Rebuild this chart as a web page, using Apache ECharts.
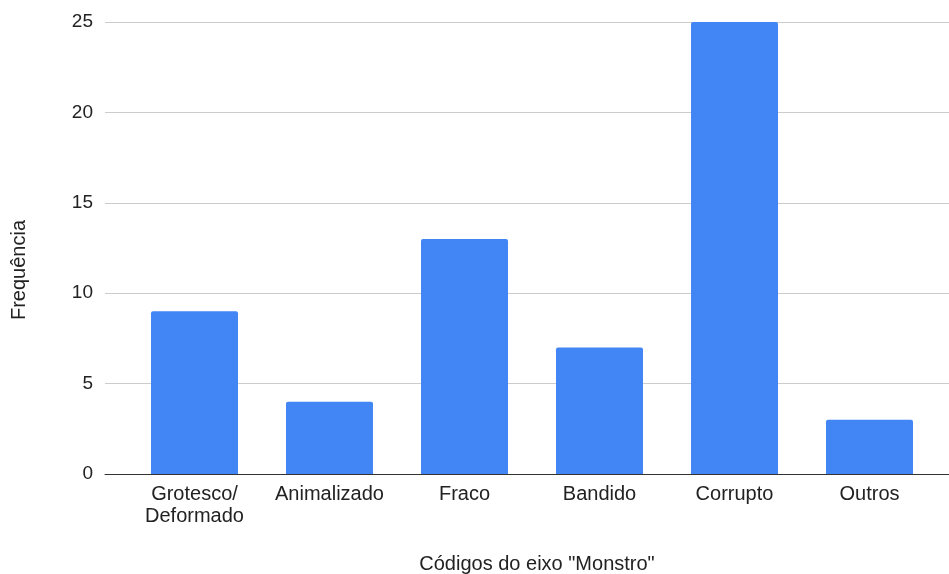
<!DOCTYPE html>
<html>
<head>
<meta charset="utf-8">
<script src="https://cdn.jsdelivr.net/npm/echarts@6/dist/echarts.min.js"></script>
<style>
  html, body { margin: 0; padding: 0; background: #fff; }
  #chart { width: 949px; height: 574px; }
</style>
</head>
<body>
<div id="chart"></div>
<script>
// Frequency of each "Monstro" code
const categories = ['Grotesco/\nDeformado', 'Animalizado', 'Fraco', 'Bandido', 'Corrupto', 'Outros'];
const frequencies = [9, 4, 13, 7, 25, 3];
const yTicks = [0, 5, 10, 15, 20, 25];

const font = 'Liberation Sans, Arial, sans-serif';
const textColor = '#222';

const chart = echarts.init(document.getElementById('chart'), null, { renderer: 'canvas' });

chart.setOption({
  animation: false,
  backgroundColor: '#fff',
  grid: [
    // background grid: gridlines and baseline spanning full width
    { left: 105, right: 0, top: 22, bottom: 100 },
    // bars
    { left: 127, right: 12, top: 22, bottom: 100 }
  ],
  xAxis: [
    {
      gridIndex: 0, type: 'category', data: categories,
      axisLine: { show: true, lineStyle: { color: '#333', width: 1 } },
      axisTick: { show: false }, axisLabel: { show: false }
    },
    {
      gridIndex: 1, type: 'category', data: categories,
      axisLine: { show: false }, axisTick: { show: false },
      axisLabel: {
        color: textColor, fontFamily: font, fontSize: 20,
        margin: 9, lineHeight: 22, interval: 0
      }
    }
  ],
  yAxis: [
    {
      gridIndex: 0, type: 'value', min: yTicks[0], max: yTicks[yTicks.length - 1], interval: 5,
      axisLine: { show: false }, axisTick: { show: false },
      axisLabel: { color: textColor, fontFamily: font, fontSize: 19, margin: 12 },
      splitLine: { lineStyle: { color: '#cccccc', width: 1 } }
    },
    {
      gridIndex: 1, type: 'value', min: yTicks[0], max: yTicks[yTicks.length - 1], interval: 5,
      axisLine: { show: false }, axisTick: { show: false },
      axisLabel: { show: false }, splitLine: { show: false }
    }
  ],
  series: [
    {
      type: 'bar', xAxisIndex: 1, yAxisIndex: 1,
      data: frequencies, barWidth: 87,
      itemStyle: { color: '#4285F4', borderRadius: [2, 2, 0, 0] }
    }
  ],
  graphic: [
    {
      type: 'text', x: 537, y: 564,
      style: {
        text: 'Códigos do eixo "Monstro"', fill: textColor,
        font: '20px ' + font, textAlign: 'center', textVerticalAlign: 'middle'
      }
    },
    {
      type: 'text', x: 19, y: 270, rotation: Math.PI / 2,
      style: {
        text: 'Frequência', fill: textColor,
        font: '20px ' + font, textAlign: 'center', textVerticalAlign: 'middle'
      }
    }
  ]
});
</script>
</body>
</html>
